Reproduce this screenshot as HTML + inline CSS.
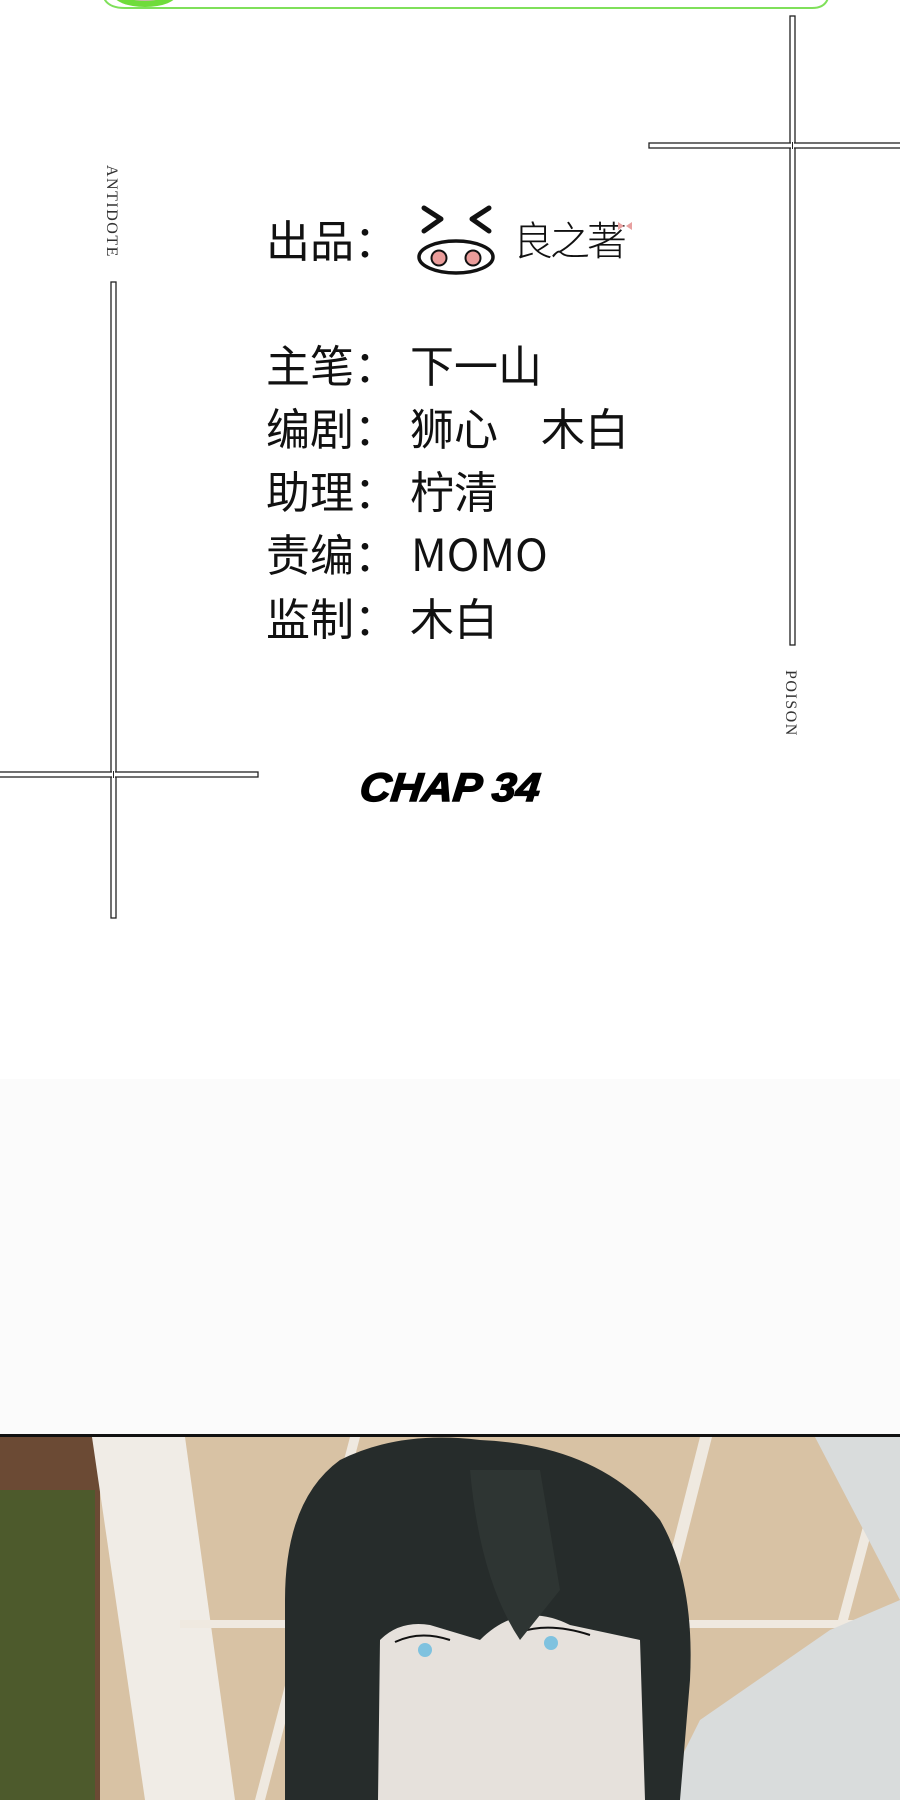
<!DOCTYPE html>
<html><head><meta charset="utf-8"><style>
html,body{margin:0;padding:0;width:900px;height:1800px;overflow:hidden;background:#fff}
body{position:relative;font-family:"Noto Sans CJK SC",sans-serif}
.t{position:absolute;font-size:44px;color:#111;line-height:1;white-space:pre}
</style></head><body>
<svg width="900" height="1800" style="position:absolute;left:0;top:0">
<path d="M105 -20 L105 0 Q110 8 125 8 L812 8 Q825 8 828 -2" fill="none" stroke="#7fe05a" stroke-width="2"/>
<ellipse cx="145" cy="-6" rx="32" ry="13" fill="#6fdc3a"/>
<ellipse cx="145" cy="-8" rx="24" ry="9" fill="#c8b8a8"/>
<g fill="#fff" stroke="#222" stroke-width="1.3">
<rect x="790" y="16" width="5" height="629"/>
<rect x="649" y="143" width="260" height="5"/>
<rect x="111" y="282" width="5" height="636"/>
<rect x="-5" y="772" width="263" height="5"/>
</g>
<rect x="791" y="142" width="3" height="7" fill="#fff"/>
<rect x="112" y="771" width="3" height="7" fill="#fff"/>
<line x1="792.5" y1="142" x2="792.5" y2="149" stroke="#222" stroke-width="1"/>
<line x1="113.5" y1="771" x2="113.5" y2="778" stroke="#222" stroke-width="1"/>
<text transform="translate(107,165) rotate(90)" font-family="Liberation Serif" font-size="16" fill="#333" letter-spacing="1.5">ANTIDOTE</text>
<text transform="translate(786,670) rotate(90)" font-family="Liberation Serif" font-size="16" fill="#333" letter-spacing="1.5">POISON</text>
<g stroke="#111" stroke-width="5" fill="none" stroke-linecap="round" stroke-linejoin="round">
<polyline points="424,208 441,219 424,231"/>
<polyline points="489,208 472,219 489,231"/>
</g>
<ellipse cx="456" cy="257" rx="37" ry="16" fill="#fff" stroke="#111" stroke-width="3.5"/>
<circle cx="439" cy="258" r="7.5" fill="#ea9c9a" stroke="#111" stroke-width="2"/>
<circle cx="473" cy="258" r="7.5" fill="#ea9c9a" stroke="#111" stroke-width="2"/>
<text x="513" y="255" font-family="Noto Sans CJK SC" font-size="40" font-weight="300" fill="#111" letter-spacing="-3">良之著</text>
<path d="M618 222 l6 4 l-6 4 z M632 222 l-6 4 l6 4 z" fill="#e8a0a0"/>
<text x="440" y="801" font-family="Liberation Sans" font-size="40" font-weight="900" font-style="italic" fill="#000" stroke="#000" stroke-width="1.5" textLength="180" lengthAdjust="spacingAndGlyphs" transform="skewX(-6) translate(3,0)">CHAP 34</text>
<rect x="0" y="1079" width="900" height="355" fill="#fbfbfb"/>
<rect x="0" y="1434" width="900" height="3" fill="#111"/>
<g>
<rect x="0" y="1437" width="900" height="363" fill="#d8c2a4"/>
<rect x="0" y="1437" width="100" height="363" fill="#6b4a34"/>
<rect x="0" y="1490" width="95" height="310" fill="#4d5a2c"/>
<polygon points="92,1437 185,1437 235,1800 145,1800" fill="#f0ece6"/>
<polygon points="350,1437 360,1437 265,1800 255,1800" fill="#efe9e0"/>
<rect x="180" y="1620" width="720" height="8" fill="#efe9e0"/>
<polygon points="700,1437 712,1437 620,1800 608,1800" fill="#efe9e0"/>
<polygon points="870,1500 880,1500 800,1800 790,1800" fill="#efe9e0"/>
<polygon points="815,1437 900,1437 900,1800 660,1800 700,1720 830,1630 900,1600" fill="#d9dcdc"/>
<path d="M285 1800 L285 1600 Q285 1500 340 1460 Q400 1430 480 1440 Q600 1445 660 1520 Q695 1580 690 1680 L680 1800 Z" fill="#262c2b"/>
<path d="M378 1800 L380 1640 Q400 1620 430 1625 L480 1640 Q520 1600 570 1625 L640 1640 L645 1800 Z" fill="#e6e1dc"/>
<path d="M395 1642 Q420 1630 450 1640" stroke="#111" stroke-width="2" fill="none"/>
<path d="M520 1632 Q550 1622 590 1635" stroke="#111" stroke-width="2" fill="none"/>
<circle cx="425" cy="1650" r="7" fill="#7fc2df"/>
<circle cx="551" cy="1643" r="7" fill="#7fc2df"/>
<path d="M470 1470 Q480 1580 520 1640 L560 1590 L540 1470 Z" fill="#2e3533"/>
</g>
</svg>
<div class="t" style="left:266px;top:216px">出品：</div>
<div class="t" style="left:266px;top:341px">主笔：</div>
<div class="t" style="left:410px;top:341px">下一山</div>
<div class="t" style="left:266px;top:404px">编剧：</div>
<div class="t" style="left:410px;top:404px">狮心</div>
<div class="t" style="left:541px;top:404px">木白</div>
<div class="t" style="left:266px;top:467px">助理：</div>
<div class="t" style="left:410px;top:467px">柠清</div>
<div class="t" style="left:266px;top:530px">责编：</div>
<div class="t" style="left:411px;top:530px">MOMO</div>
<div class="t" style="left:266px;top:594px">监制：</div>
<div class="t" style="left:410px;top:594px">木白</div>
</body></html>
